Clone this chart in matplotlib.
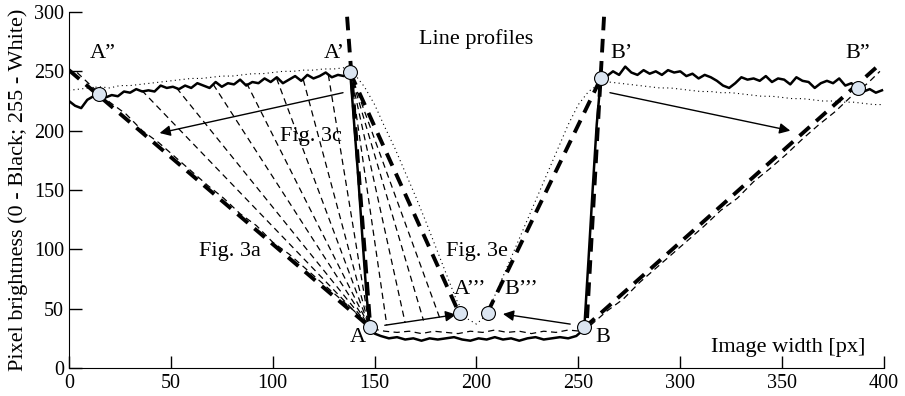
import matplotlib.pyplot as plt

plt.rcParams['font.family'] = ['Liberation Serif', 'DejaVu Serif']

# measured line profile (solid), left plateau sampled every 3 px from x=0
left_x = list(range(0, 139, 3))
left_y = [225, 221, 219, 226, 229, 231, 228, 230, 229, 233, 232, 235, 233, 234, 233, 238,
          236, 237, 235, 238, 236, 240, 238, 236, 241, 237, 240, 239, 243, 238, 241, 240,
          244, 241, 245, 240, 243, 246, 242, 247, 244, 246, 249, 245, 247, 246, 250]
# dark gap between the edges
gap_x = [140, 142, 144, 146, 147.5, 150, 153, 157, 161, 165, 169, 173, 177, 181, 185, 189,
         193, 197, 201, 205, 209, 213, 217, 221, 225, 229, 233, 237, 241, 245, 249, 251, 253,
         255, 257, 259]
gap_y = [205, 160, 110, 62, 36, 29, 27, 25, 26, 24, 25, 23, 25, 24, 25, 26,
         24, 23, 25, 24, 26, 24, 25, 23, 25, 26, 24, 25, 26, 25, 27, 30, 36,
         92, 150, 205]
# right plateau sampled every 3 px from x=261
right_x = list(range(261, 400, 3))
right_y = [244, 246, 250, 247, 254, 249, 247, 251, 248, 250, 247, 251, 249, 250, 246, 248,
           244, 247, 245, 242, 238, 236, 240, 245, 243, 244, 242, 246, 241, 244, 243, 239,
           245, 242, 241, 236, 240, 242, 240, 244, 238, 240, 236, 233, 235, 232, 234]

# smoothed profile (dotted), every 5 px
dot_x = list(range(0, 401, 5))
dot_y = [234, 235, 236, 237, 236, 238, 238, 239, 240, 241, 242, 243, 244, 244, 245, 246,
         246, 247, 248, 248, 249, 250, 250, 251, 251, 252, 252, 253, 248, 237, 222, 203,
         185, 165, 145, 124, 102, 80, 58, 42, 37, 45, 65, 85, 105, 125, 145, 165,
         185, 205, 222, 233, 239, 241, 240, 239, 238, 237, 236, 236, 235, 234, 233, 233,
         232, 232, 231, 230, 229, 229, 228, 227, 227, 226, 225, 225, 224, 224, 223, 222, 222]

# thin dashed profiles (Fig. 3a side, bottom, right side)
fa_x = [4, 12, 20, 28, 36, 44, 52, 60, 68, 76, 84, 92, 100, 108, 116, 124, 132, 140, 146]
fa_y = [249, 236, 224, 214, 200, 190, 178, 166, 154, 143, 130, 120, 106, 96, 84, 72, 60, 48, 38]
bot_x = [149, 155, 161, 167, 173, 179, 185, 191, 197, 203, 209, 215, 221, 227, 233, 239, 245, 251]
bot_y = [33, 31, 30, 31, 29, 31, 30, 29, 31, 30, 32, 30, 31, 29, 31, 30, 32, 31]
fb_x = [256, 264, 272, 280, 288, 296, 304, 312, 320, 328, 336, 344, 352, 360, 368, 376, 384, 392, 398]
fb_y = [36, 48, 58, 72, 84, 96, 108, 120, 133, 143, 157, 168, 180, 193, 205, 216, 229, 240, 250]

# thick dashed construction lines
thick_x0 = [0, 136.5, 138, 205.5, 262.6, 253]
thick_y0 = [251, 296, 249, 47, 296, 34]
thick_x1 = [148, 148, 191, 261, 254, 398]
thick_y1 = [34, 32, 48, 244, 34, 256]

# fan of thin dashed lines to point A
fanA_x = [35.7, 52.8, 70.8, 87.2, 101.9, 115, 127.3]
fanA_y = [234, 236, 239, 240, 244, 243, 247]
# fan of thin dashed lines from point A'
fanA2_x = [156, 165, 174, 182]
fanA2_y = [36, 38, 40, 42]

# key points
pt_names = ['A\u201d', 'A\u2019', 'A', 'A\u2019\u2019\u2019', 'B\u2019\u2019\u2019', 'B', 'B\u2019', 'B\u201d']
pt_x = [14.5, 138, 147.5, 192, 205.5, 253, 261, 387]
pt_y = [231, 249.5, 34.5, 46, 46, 34.5, 244, 236]
lab_x = [16.5, 130, 142, 197, 222, 262, 271, 387]
lab_y = [265, 265, 26, 66, 66, 26, 265, 265]

# arrows (tail -> head)
arr_x0 = [134.5, 155, 246, 265.5]
arr_y0 = [232, 36, 37, 232]
arr_x1 = [44.5, 190, 213, 354]
arr_y1 = [198, 45, 45.5, 200]

fig = plt.figure(figsize=(9.05, 3.96), dpi=100)
ax = fig.add_axes([0.0762, 0.0707, 0.9006, 0.899])

thick = dict(color='k', lw=2.8, dashes=(3.5, 2.2), solid_capstyle='butt')
thin = dict(color='k', lw=0.9, dashes=(5, 3.5))

ax.plot(dot_x, dot_y, color='k', lw=0.8, dashes=(1, 3))
for x, y in zip(fanA_x, fanA_y):
    ax.plot([x, 147.5], [y, 34.5], **thin)
for x, y in zip(fanA2_x, fanA2_y):
    ax.plot([138, x], [249.5, y], **thin)
ax.plot(fa_x, fa_y, **thin)
ax.plot(bot_x, bot_y, **thin)
ax.plot(fb_x, fb_y, **thin)
ax.plot(left_x + gap_x + right_x, left_y + gap_y + right_y, color='k', lw=1.8)
for x0, y0, x1, y1 in zip(thick_x0, thick_y0, thick_x1, thick_y1):
    ax.plot([x0, x1], [y0, y1], **thick)

for x0, y0, x1, y1 in zip(arr_x0, arr_y0, arr_x1, arr_y1):
    ax.annotate('', xy=(x1, y1), xytext=(x0, y0),
                arrowprops=dict(arrowstyle='-|>', color='k', lw=1, mutation_scale=16,
                                shrinkA=0, shrinkB=0))

ax.plot(pt_x, pt_y, 'o', ms=10, mfc='#dbe5f1', mec='k', mew=0.8, zorder=5)
for name, x, y in zip(pt_names, lab_x, lab_y):
    ax.text(x, y, name, fontsize=16, ha='center', va='center')

ax.text(200, 277, 'Line profiles', fontsize=16, ha='center', va='center')
ax.text(119, 195, 'Fig. 3c', fontsize=16, ha='center', va='center')
ax.text(79, 98, 'Fig. 3a', fontsize=16, ha='center', va='center')
ax.text(200, 98, 'Fig. 3e', fontsize=16, ha='center', va='center')
ax.text(353, 17, 'Image width [px]', fontsize=16, ha='center', va='center')

ax.set_xlim(0, 400)
ax.set_ylim(0, 300)
ax.set_xticks([0, 50, 100, 150, 200, 250, 300, 350, 400])
ax.set_yticks([0, 50, 100, 150, 200, 250, 300])
ax.spines['top'].set_visible(False)
ax.spines['right'].set_visible(False)
ax.tick_params(direction='in', length=9, labelsize=14.5, width=1)
ax.tick_params(axis='x', pad=4)
ax.set_ylabel('Pixel brightness (0 - Black; 255 - White)', fontsize=16, labelpad=4)

fig.savefig('out.png', dpi=100)
